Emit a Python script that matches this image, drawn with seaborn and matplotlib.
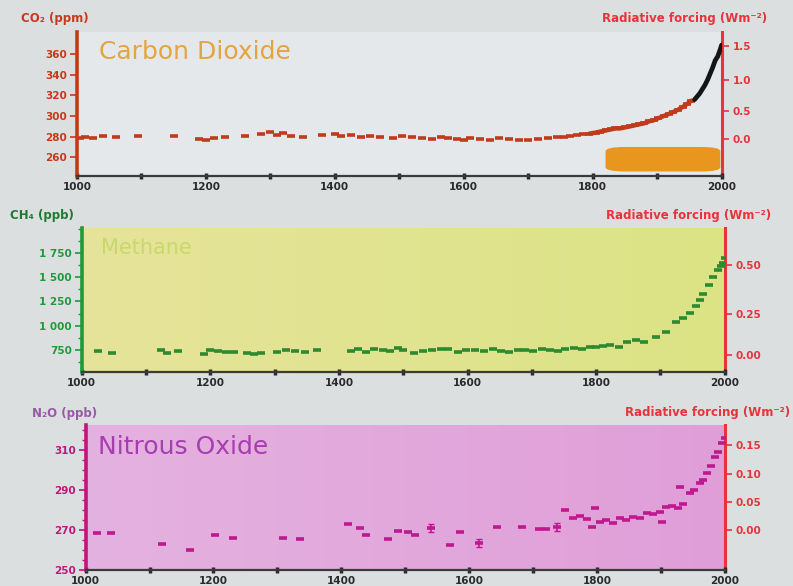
import numpy as np
import pandas as pd
import matplotlib
matplotlib.use("Agg")
import matplotlib.pyplot as plt
import seaborn as sns
from matplotlib.patches import FancyBboxPatch
from matplotlib.ticker import MultipleLocator

# ---------------- data ----------------
co2_years = [1005, 1012, 1025, 1040, 1060, 1095, 1150, 1190, 1200, 1212, 1230, 1260,
             1285, 1300, 1310, 1320, 1332, 1350, 1380, 1400, 1410, 1425, 1440, 1455,
             1470, 1490, 1505, 1520, 1535, 1550, 1565, 1575, 1590, 1600, 1610, 1625,
             1640, 1655, 1670, 1685, 1700, 1715, 1730, 1745, 1755, 1765, 1775, 1785,
             1795, 1805, 1812, 1820, 1828, 1835, 1842, 1850, 1858, 1865, 1872, 1880,
             1888, 1895, 1902, 1910, 1918, 1925, 1932, 1940, 1947, 1953]
co2_ppm = [279, 280, 279, 281, 280, 281, 281, 278, 277, 279, 280, 281,
           283, 285, 282, 284, 281, 280, 282, 283, 281, 282, 280, 281,
           280, 279, 281, 280, 279, 278, 280, 279, 278, 277, 279, 278,
           277, 279, 278, 277, 277, 278, 279, 280, 280, 281, 282, 283,
           283, 284, 285, 286, 287, 288, 288, 289, 290, 291, 292, 293,
           295, 296, 298, 300, 302, 304, 306, 309, 312, 315]
co2_direct_years = [1958, 1962, 1966, 1970, 1974, 1978, 1982, 1986, 1990, 1994, 1998, 2000]
co2_direct_ppm = [316, 319, 322, 326, 330, 335, 341, 347, 354, 358, 365, 369]

ch4_years = [1025, 1047, 1124, 1133, 1149, 1190, 1200, 1212, 1225, 1237, 1257, 1268,
             1279, 1304, 1318, 1332, 1348, 1366, 1419, 1430, 1442, 1455, 1468, 1480,
             1492, 1500, 1516, 1530, 1545, 1558, 1570, 1585, 1598, 1612, 1625, 1640,
             1652, 1665, 1678, 1690, 1702, 1715, 1728, 1740, 1752, 1765, 1778, 1790,
             1800, 1811, 1822, 1835, 1848, 1862, 1875, 1893, 1908, 1924, 1935, 1946,
             1955, 1962, 1966, 1975, 1982, 1989, 1994, 1997, 2000]
ch4_ppb = [735, 720, 745, 715, 740, 710, 745, 735, 730, 725, 720, 705,
           715, 725, 745, 735, 730, 745, 740, 755, 730, 760, 750, 740,
           770, 745, 720, 735, 745, 760, 755, 730, 745, 750, 735, 760,
           740, 730, 750, 745, 735, 760, 750, 740, 755, 770, 760, 780,
           775, 790, 800, 780, 830, 850, 830, 880, 930, 1040, 1080, 1130,
           1200, 1265, 1330, 1420, 1500, 1575, 1620, 1650, 1700]

n2o_years = [1017, 1040, 1119, 1163, 1202, 1230, 1309, 1335, 1410, 1429, 1439, 1473,
             1489, 1505, 1515, 1541, 1570, 1585, 1616, 1643, 1682, 1710, 1721, 1737,
             1750, 1762, 1773, 1784, 1792, 1797, 1804, 1814, 1825, 1836, 1846, 1856,
             1867, 1878, 1888, 1898, 1901, 1908, 1918, 1926, 1930, 1934, 1945, 1952,
             1961, 1966, 1972, 1978, 1984, 1990, 1995, 2000]
n2o_ppb = [268.5, 268.5, 263.0, 260.0, 267.5, 266.0, 266.0, 265.5, 273.0, 271.0, 267.5, 265.5,
           269.5, 269.0, 267.5, 271.0, 262.5, 269.0, 263.5, 271.5, 271.5, 270.5, 270.5, 271.5,
           280.0, 276.0, 277.0, 275.5, 271.5, 281.0, 274.0, 275.0, 273.5, 276.0, 275.0, 276.5,
           276.0, 278.5, 278.0, 279.0, 274.0, 281.5, 282.0, 281.0, 291.5, 283.0, 288.5, 290.0,
           293.5, 295.0, 298.5, 302.0, 306.5, 309.0, 313.5, 316.0]
n2o_err_years = [1541, 1616, 1737]
n2o_err_ppb = [271.0, 263.5, 271.5]
n2o_err = [2.0, 2.0, 2.0]

co2_ticks = [260, 280, 300, 320, 340, 360]
co2_rf_ticks = [0.0, 0.5, 1.0, 1.5]
ch4_ticks = [750, 1000, 1250, 1500, 1750]
ch4_rf_ticks = [0.0, 0.25, 0.5]
n2o_ticks = [250, 270, 290, 310]
n2o_rf_ticks = [0.0, 0.05, 0.10, 0.15]
year_ticks = [1000, 1200, 1400, 1600, 1800, 2000]

co2_df = pd.DataFrame({"year": co2_years, "ppm": co2_ppm})
co2_direct_df = pd.DataFrame({"year": co2_direct_years, "ppm": co2_direct_ppm})
ch4_df = pd.DataFrame({"year": ch4_years, "ppb": ch4_ppb})
n2o_df = pd.DataFrame({"year": n2o_years, "ppb": n2o_ppb})

# radiative forcing relations used for the right-hand scales
def co2_rf(c):
    return 5.35 * np.log(np.maximum(c, 1e-6) / 278.0)

def co2_rf_inv(f):
    return 278.0 * np.exp(np.asarray(f) / 5.35)

def ch4_rf(m):
    return 0.036 * (np.sqrt(np.maximum(m, 0)) - np.sqrt(700.0))

def ch4_rf_inv(f):
    return (np.asarray(f) / 0.036 + np.sqrt(700.0)) ** 2

def n2o_rf(n):
    return 0.12 * (np.sqrt(np.maximum(n, 0)) - np.sqrt(270.0))

def n2o_rf_inv(f):
    return (np.asarray(f) / 0.12 + np.sqrt(270.0)) ** 2

# ---------------- styling ----------------
sns.set_theme(style="white")
plt.rcParams["font.family"] = ["DejaVu Sans"]

FIG_BG = "#dcdfe0"
RF_RED = "#e8323c"
fig = plt.figure(figsize=(7.93, 5.86), dpi=100, facecolor=FIG_BG)

ax1 = fig.add_axes([0.097, 0.700, 0.813, 0.246])
ax2 = fig.add_axes([0.103, 0.365, 0.811, 0.246])
ax3 = fig.add_axes([0.108, 0.027, 0.806, 0.248])


def gradient_bg(ax, left, right):
    grad = np.linspace(0, 1, 256)[None, :, None]
    c0 = np.array(matplotlib.colors.to_rgb(left))[None, None, :]
    c1 = np.array(matplotlib.colors.to_rgb(right))[None, None, :]
    img = c0 * (1 - grad) + c1 * grad
    ax.imshow(img, extent=[0, 1, 0, 1], transform=ax.transAxes,
              aspect="auto", zorder=0)


def style_panel(ax, left_color, ylim, yticks, ylabels, minor_step, rf, rf_inv,
                rf_ticks, rf_labels):
    ax.set_xlim(1000, 2000)
    ax.set_ylim(*ylim)
    ax.set_xticks(year_ticks)
    ax.set_xticklabels([str(y) for y in year_ticks])
    ax.xaxis.set_minor_locator(MultipleLocator(100))
    ax.set_yticks(yticks)
    ax.set_yticklabels(ylabels)
    if minor_step:
        ax.yaxis.set_minor_locator(MultipleLocator(minor_step))
    ax.set_xlabel("")
    ax.set_ylabel("")
    for s in ["top", "right"]:
        ax.spines[s].set_visible(False)
    ax.spines["left"].set_color(left_color)
    ax.spines["left"].set_linewidth(2.6)
    ax.spines["bottom"].set_color("#3a3a3a")
    ax.spines["bottom"].set_linewidth(1.6)
    ax.tick_params(axis="x", which="both", bottom=True, direction="inout",
                   length=5, width=2.5, colors="#2a2a2a", labelsize=7.5, pad=2)
    ax.tick_params(axis="x", which="minor", length=4, width=2.5)
    ax.tick_params(axis="y", which="both", left=True, direction="out",
                   colors=left_color, labelsize=7.5, pad=2)
    ax.tick_params(axis="y", which="major", length=5, width=1.2)
    ax.tick_params(axis="y", which="minor", length=3, width=1.0)
    for lab in ax.get_xticklabels() + ax.get_yticklabels():
        lab.set_fontweight("bold")
    ax.grid(False)

    sec = ax.secondary_yaxis("right", functions=(rf, rf_inv))
    sec.set_yticks(rf_ticks)
    sec.set_yticklabels(rf_labels)
    sec.spines["right"].set_color(RF_RED)
    sec.spines["right"].set_linewidth(2.2)
    sec.tick_params(axis="y", colors=RF_RED, labelsize=7.5, length=5, width=1.2, pad=3)
    for lab in sec.get_yticklabels():
        lab.set_fontweight("bold")
    return sec


# ---------- panel 1: carbon dioxide ----------
CO2_C = "#c23a1c"
ax1.set_facecolor("#e4e8ea")
sns.scatterplot(data=co2_df, x="year", y="ppm", ax=ax1, marker="_", s=38,
                linewidth=2.6, color=CO2_C, zorder=3, legend=False)
sns.lineplot(data=co2_df[co2_df["year"] >= 1795], x="year", y="ppm", ax=ax1,
             color=CO2_C, linewidth=3.2, zorder=3, legend=False)
sns.lineplot(data=co2_direct_df, x="year", y="ppm", ax=ax1, color="#151515",
             linewidth=3.4, zorder=4, legend=False)
ax1.add_patch(FancyBboxPatch((0.82, 0.03), 0.178, 0.17, transform=ax1.transAxes,
                             boxstyle="round,pad=0,rounding_size=0.03",
                             facecolor="#e8961e", edgecolor="none", zorder=2))
style_panel(ax1, "#c8381c", (242, 382), co2_ticks, [str(t) for t in co2_ticks],
            None, co2_rf, co2_rf_inv, co2_rf_ticks, ["0.0", "0.5", "1.0", "1.5"])
ax1.text(0.035, 0.86, "Carbon Dioxide", transform=ax1.transAxes, fontsize=18,
         color="#e4a440", ha="left", va="center")

# ---------- panel 2: methane ----------
CH4_C = "#2e8a30"
gradient_bg(ax2, "#e6e39a", "#dbe485")
sns.scatterplot(data=ch4_df, x="year", y="ppb", ax=ax2, marker="_", s=36,
                linewidth=2.6, color=CH4_C, zorder=3, legend=False)
style_panel(ax2, "#1f9a3a", (520, 2010), ch4_ticks,
            [f"{t:,}".replace(",", " ") for t in ch4_ticks], 125,
            ch4_rf, ch4_rf_inv, ch4_rf_ticks, ["0.00", "0.25", "0.50"])
ax2.text(0.03, 0.86, "Methane", transform=ax2.transAxes, fontsize=15,
         color="#c9d86c", ha="left", va="center")

# ---------- panel 3: nitrous oxide ----------
N2O_C = "#c01890"
gradient_bg(ax3, "#e4b2e0", "#e09ed8")
sns.scatterplot(data=n2o_df, x="year", y="ppb", ax=ax3, marker="_", s=34,
                linewidth=2.6, color=N2O_C, zorder=3, legend=False)
ax3.errorbar(n2o_err_years, n2o_err_ppb, yerr=n2o_err, fmt="none",
             ecolor=N2O_C, elinewidth=1.2, capsize=2.5, zorder=3)
style_panel(ax3, "#c0167a", (250, 322.5), n2o_ticks, [str(t) for t in n2o_ticks],
            5, n2o_rf, n2o_rf_inv, n2o_rf_ticks, ["0.00", "0.05", "0.10", "0.15"])
ax3.text(0.02, 0.85, "Nitrous Oxide", transform=ax3.transAxes, fontsize=18,
         color="#a83cb0", ha="left", va="center")

# ---------- axis captions ----------
cap = dict(fontsize=8.5, fontweight="bold", va="center")
fig.text(0.026, 0.969, "CO\u2082 (ppm)", color="#c8381c", ha="left", **cap)
fig.text(0.968, 0.969, "Radiative forcing (Wm\u207b\u00b2)", color=RF_RED, ha="right", **cap)
fig.text(0.012, 0.632, "CH\u2084 (ppb)", color="#1f7a30", ha="left", **cap)
fig.text(0.972, 0.633, "Radiative forcing (Wm\u207b\u00b2)", color=RF_RED, ha="right", **cap)
fig.text(0.040, 0.295, "N\u2082O (ppb)", color="#9a58a8", ha="left", **cap)
fig.text(0.996, 0.296, "Radiative forcing (Wm\u207b\u00b2)", color=RF_RED, ha="right", **cap)

fig.savefig("out.png", dpi=100, facecolor=FIG_BG)
